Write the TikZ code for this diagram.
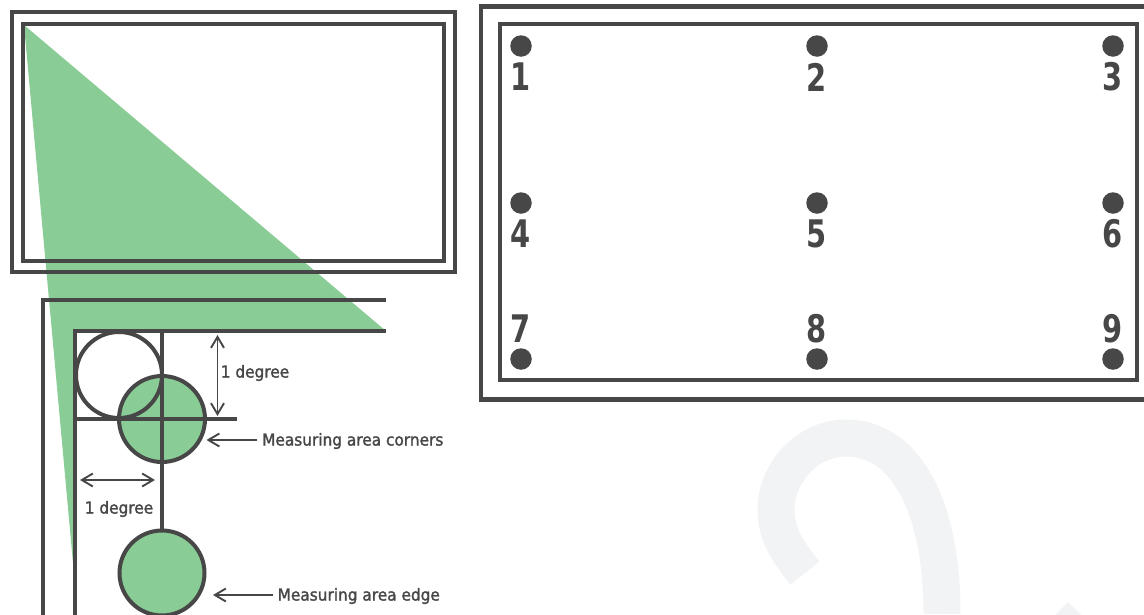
\documentclass[tikz,border=0pt]{standalone}
\usepackage{fontspec}
\usetikzlibrary{arrows.meta}
\newfontfamily\labfont[FakeStretch=0.93,FakeBold=1.6]{DejaVu Sans}
\newfontfamily\numfont[FakeStretch=0.76]{DejaVu Sans Bold}
\definecolor{ink}{HTML}{474747}
\definecolor{leaf}{HTML}{89CC95}
\definecolor{wmgrey}{HTML}{F2F3F5}
\tikzset{
  frameline/.style={draw=ink,line width=4.3pt,line join=miter},
  dimline/.style={draw=ink,line width=1.9pt,{Straight Barb[length=11pt,width=13pt,line width=1.9pt]}-{Straight Barb[length=11pt,width=13pt,line width=1.9pt]}},
  callout/.style={draw=ink,line width=1.9pt,-{Straight Barb[length=11pt,width=13pt,line width=1.9pt]}},
  ring/.style={circle,draw=ink,line width=4pt,inner sep=0pt,minimum size=#1},
  dot/.style={circle,fill=ink,inner sep=0pt,minimum size=21.5pt},
  digit/.style={text=ink,font=\numfont\fontsize{38}{38}\selectfont,inner sep=0pt},
  lab/.style={text=ink,font=\labfont\fontsize{16.5}{18}\selectfont,inner sep=0pt},
}
\begin{document}
\begin{tikzpicture}[x=1pt,y=-1pt]
\useasboundingbox (0,0) rectangle (1144,614);
\clip (0,0) rectangle (1144,614);
% watermark
\draw[wmgrey,line width=37pt] (805,573) .. controls (788,552) and (776,534) .. (776,510) .. controls (776,472) and (808,438) .. (846,438) .. controls (905,438) and (942,505) .. (942,614);
\fill[wmgrey] (1068,602) -- (1082,616) -- (1054,616) -- cycle;
% green wedge
\fill[leaf] (24,25) -- (386,331) -- (75,331) -- (75,585) -- cycle;
% top-left frames
\node[frameline,minimum width=443pt,minimum height=260pt,inner sep=0pt] (outerA) at (233.5,142) {};
\node[frameline,minimum width=421pt,minimum height=237pt,inner sep=0pt] (innerA) at (233.5,142.5) {};
% right frames
\node[frameline,minimum width=700pt,minimum height=393pt,inner sep=0pt] (outerB) at (831,203) {};
\node[frameline,minimum width=637pt,minimum height=356pt,inner sep=0pt] (innerB) at (818.5,202) {};
% dots and digits
\foreach \nm/\dx/\dy/\ty in {1/521/46/77,2/817/46/77,3/1113/46/77,4/521/203/234,5/817/203/234,6/1113/203/234,7/521/359/329,8/817/359/329,9/1113/359/329}{
  \node[dot] (d\nm) at (\dx,\dy) {};
  \node[digit] (n\nm) at (\dx,\ty) {\nm};
}
% circles
\node[ring=86pt,fill=leaf] (cornerB) at (162,419) {};
\node[ring=85pt,fill=leaf] (edgeC) at (162,573) {};
\node[ring=86pt] (cornerA) at (119,375) {};
% lower frame lines
\coordinate (oA) at (43,620); \coordinate (oB) at (43,300); \coordinate (oC) at (386,300);
\coordinate (iA) at (75,620); \coordinate (iB) at (75,331); \coordinate (iC) at (386,331);
\coordinate (hA) at (75,419); \coordinate (hB) at (237,419);
\coordinate (vA) at (162,331);
\draw[frameline] (oA) -- (oB) -- (oC);
\draw[frameline] (iA) -- (iB) -- (iC);
\draw[draw=ink,line width=4pt] (hA) -- (hB);
\draw[draw=ink,line width=4pt] (vA) -- (edgeC.north);
% dimensions
\coordinate (dvA) at (217.5,335); \coordinate (dvB) at (217.5,416);
\coordinate (dhA) at (80,480); \coordinate (dhB) at (155,480);
\draw[dimline] (dvA) -- (dvB);
\draw[dimline] (dhA) -- (dhB);
\node[lab,anchor=center] (degV) at (255,373) {1 degree};
\node[lab,anchor=center] (degH) at (119,509) {1 degree};
\node[lab,anchor=west] (lblCorners) at (262,441) {Measuring area corners};
\node[lab,anchor=west] (lblEdge) at (277.5,596) {Measuring area edge};
\coordinate (aC) at (206.5,440); \coordinate (aE) at (213,595);
\coordinate (aCs) at (257,440); \coordinate (aEs) at (273,595);
\draw[callout] (aCs) -- (aC);
\draw[callout] (aEs) -- (aE);
\end{tikzpicture}
\end{document}
